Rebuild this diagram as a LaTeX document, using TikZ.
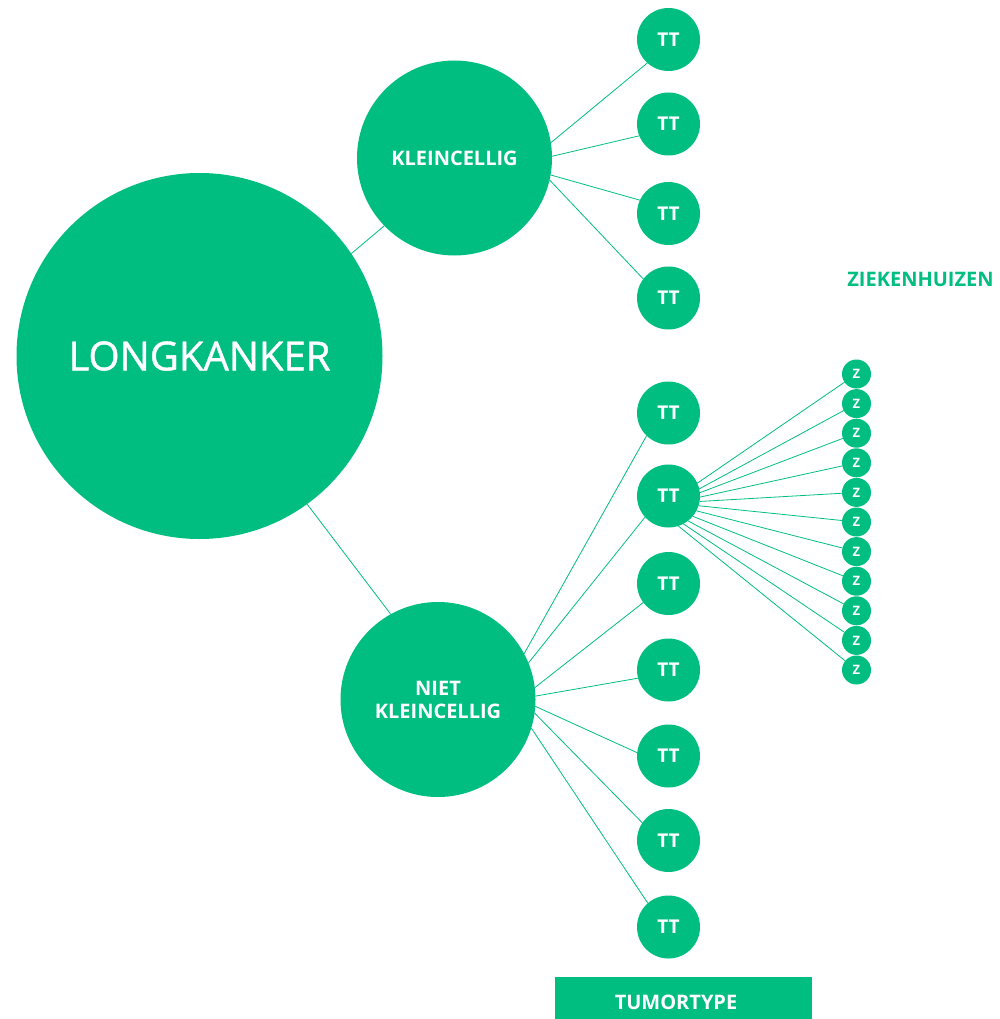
\documentclass[tikz,border=0pt]{standalone}
\usepackage{fontspec}
\setmainfont{Open Sans}
\newfontfamily\halfvet[FakeBold=1]{Open Sans}
\definecolor{lkgreen}{RGB}{0,190,128}
\tikzset{
  bol/.style={circle,fill=lkgreen,text=white,inner sep=0pt,outer sep=0pt,font=\bfseries},
  tt/.style={bol,minimum size=63pt,font=\bfseries\fontsize{19}{20}\selectfont},
  zh/.style={bol,minimum size=29pt,font=\bfseries\fontsize{13}{14}\selectfont},
  tak/.style={draw=lkgreen,line width=0.8pt},
}
\begin{document}
\begin{tikzpicture}[x=1pt,y=-1pt]
\useasboundingbox (0,0) rectangle (1000,1019);

\node[bol,minimum size=366pt,font=\halfvet\fontsize{40}{42}\selectfont] (long) at (199.5,356) {LONGKANKER};
\node[bol,minimum size=195pt,font=\bfseries\fontsize{20}{20}\selectfont] (klein) at (454.5,158) {KLEINCELLIG};
\node[bol,minimum size=195pt,align=center,font=\bfseries\fontsize{20}{23}\selectfont] (niet) at (438,699.5) {NIET\\KLEINCELLIG};

\node[tt] (tt1) at (668.5,39.5) {TT};
\node[tt] (tt2) at (668.5,124) {TT};
\node[tt] (tt3) at (668.5,213.5) {TT};
\node[tt] (tt4) at (668.5,298) {TT};
\node[tt] (tt5) at (668.5,413) {TT};
\node[tt] (tt6) at (668.5,496) {TT};
\node[tt] (tt7) at (668.5,583.5) {TT};
\node[tt] (tt8) at (668.5,670) {TT};
\node[tt] (tt9) at (668.5,756) {TT};
\node[tt] (tt10) at (668.5,840.5) {TT};
\node[tt] (tt11) at (668.5,927) {TT};

\node[zh] (z1) at (856.5,374) {Z};
\node[zh] (z2) at (856.5,403.6) {Z};
\node[zh] (z3) at (856.5,433.2) {Z};
\node[zh] (z4) at (856.5,462.8) {Z};
\node[zh] (z5) at (856.5,492.4) {Z};
\node[zh] (z6) at (856.5,522) {Z};
\node[zh] (z7) at (856.5,551.6) {Z};
\node[zh] (z8) at (856.5,581.2) {Z};
\node[zh] (z9) at (856.5,610.8) {Z};
\node[zh] (z10) at (856.5,640.4) {Z};
\node[zh] (z11) at (856.5,670) {Z};

\node[text=lkgreen,font=\bfseries\fontsize{20}{20}\selectfont] (zkh) at (920.5,279.5) {ZIEKENHUIZEN};
\node[fill=lkgreen,text=white,inner sep=0pt,minimum width=257pt,minimum height=42pt,text height=24pt,
  font=\bfseries\fontsize{20}{20}\selectfont] (ttype) at (683.5,998) {TUMORTYPE\hspace*{15pt}};

\draw[tak] (long.34) -- (klein.224);
\draw[tak] (long.-54) -- (niet.119);

\draw[tak] (klein.9) -- (tt1.228);
\draw[tak] (klein.1) -- (tt2.202);
\draw[tak] (klein.-10) -- (tt3.155);
\draw[tak] (klein.-13) -- (tt4.143);

\draw[tak] (niet.28) -- (tt5.226);
\draw[tak] (niet.22.6) -- (tt6.222);
\draw[tak] (niet.7) -- (tt7.217);
\draw[tak] (niet.2.6) -- (tt8.195);
\draw[tak] (niet.-4.4) -- (tt9.174);
\draw[tak] (niet.-8) -- (tt10.146);
\draw[tak] (niet.-17) -- (tt11.131);

\draw[tak] (tt6.24) -- (z1);
\draw[tak] (tt6.13) -- (z2);
\draw[tak] (tt6.6) -- (z3);
\draw[tak] (tt6.-2) -- (z4);
\draw[tak] (tt6.-10) -- (z5);
\draw[tak] (tt6.-18) -- (z6);
\draw[tak] (tt6.-28) -- (z7);
\draw[tak] (tt6.-40) -- (z8);
\draw[tak] (tt6.-52) -- (z9);
\draw[tak] (tt6.-62) -- (z10);
\draw[tak] (tt6.-72) -- (z11);
\end{tikzpicture}
\end{document}
